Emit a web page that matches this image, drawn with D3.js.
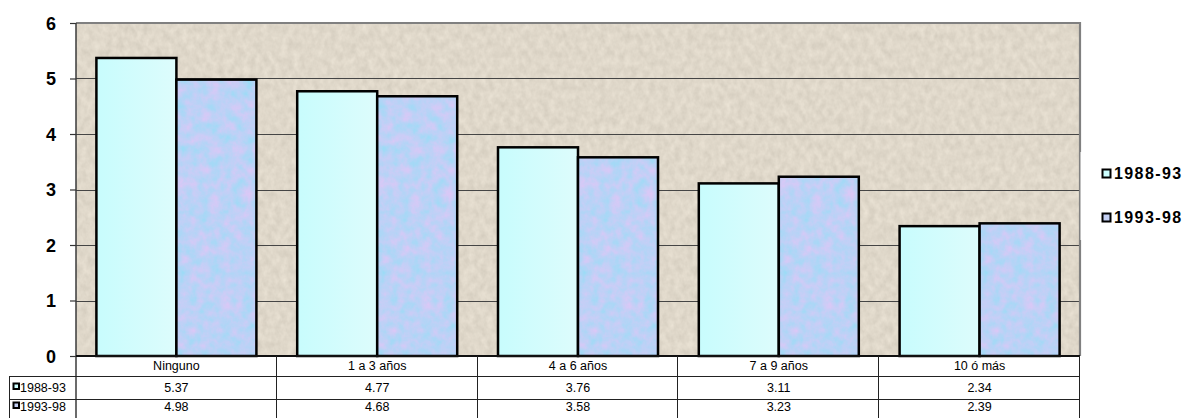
<!DOCTYPE html>
<html>
<head>
<meta charset="utf-8">
<script src="https://cdn.jsdelivr.net/npm/d3@7"></script>
<style>
  html, body { margin: 0; padding: 0; background: #ffffff; }
  svg { display: block; font-family: "Liberation Sans", Arial, sans-serif; }
</style>
</head>
<body>
<svg id="chart" width="1188" height="418"></svg>
<script>
// Education level groups and the two survey periods
const categories = ["Ninguno", "1 a 3 años", "4 a 6 años", "7 a 9 años", "10 ó más"];
const seriesNames = ["1988-93", "1993-98"];
const values8893 = [5.37, 4.77, 3.76, 3.11, 2.34];
const values9398 = [4.98, 4.68, 3.58, 3.23, 2.39];
const yTicks = [0, 1, 2, 3, 4, 5, 6];

const seriesValues = [values8893, values9398];

const svg = d3.select("#chart");
const W = 1188, H = 418;
const plot = { left: 76, right: 1080, top: 23, bottom: 356 };

// ---------- fills ----------
const defs = svg.append("defs");

// fine speckled beige stone for the plot background
const stone = defs.append("filter").attr("id", "stone")
  .attr("x", 0).attr("y", 0).attr("width", 1).attr("height", 1)
  .attr("color-interpolation-filters", "sRGB");
stone.append("feTurbulence").attr("type", "fractalNoise")
  .attr("baseFrequency", "0.16 0.12").attr("numOctaves", 3).attr("seed", 7).attr("result", "n");
stone.append("feColorMatrix").attr("in", "n").attr("type", "matrix")
  .attr("values", "0.11 0 0 0 0.82  0.11 0 0 0 0.79  0.11 0 0 0 0.735  0 0 0 0 1");

// mottled blue / lavender fill for the second series
const marble = defs.append("filter").attr("id", "marble")
  .attr("x", 0).attr("y", 0).attr("width", 1).attr("height", 1)
  .attr("color-interpolation-filters", "sRGB");
marble.append("feTurbulence").attr("type", "fractalNoise")
  .attr("baseFrequency", "0.09").attr("numOctaves", 4).attr("seed", 3).attr("result", "m");
marble.append("feColorMatrix").attr("in", "m").attr("type", "matrix")
  .attr("values", "0.32 0 0 0 0.58  -0.1 0 0 0 0.87  0 0 0 0 0.965  0 0 0 0 1");

// pale cyan gradient for the first series
const grad = defs.append("linearGradient").attr("id", "cyan")
  .attr("x1", "0%").attr("x2", "100%").attr("y1", "0%").attr("y2", "0%");
grad.append("stop").attr("offset", "0%").attr("stop-color", "#c8fcfd");
grad.append("stop").attr("offset", "100%").attr("stop-color", "#ddfcfc");

const keyFill = ["#ccffff", "#c4d0f4"];

// ---------- scales ----------
const x0 = d3.scaleBand().domain(categories).range([plot.left, plot.right]).paddingInner(0).paddingOuter(0);
const x1 = d3.scaleBand().domain(seriesNames).range([0, x0.bandwidth()]).paddingInner(0).paddingOuter(0.255);
const y = d3.scaleLinear().domain([0, 6]).range([plot.bottom, plot.top]);

// ---------- plot area ----------
svg.append("rect")
  .attr("x", plot.left).attr("y", plot.top)
  .attr("width", plot.right - plot.left).attr("height", plot.bottom - plot.top)
  .attr("fill", "#ddd5c8")
  .attr("filter", "url(#stone)");

// horizontal gridlines
svg.append("g").selectAll("line")
  .data(yTicks.filter(t => t > 0 && t < 6))
  .join("line")
  .attr("x1", plot.left).attr("x2", plot.right)
  .attr("y1", d => Math.round(y(d)) + 0.5).attr("y2", d => Math.round(y(d)) + 0.5)
  .attr("stroke", "#454545").attr("stroke-width", 1);

// border on top and right
svg.append("path")
  .attr("d", `M${plot.left},${plot.top} H${plot.right} V${plot.bottom}`)
  .attr("fill", "none").attr("stroke", "#808080").attr("stroke-width", 2.2);

// ---------- bars ----------
const groups = svg.append("g").selectAll("g")
  .data(categories)
  .join("g")
  .attr("transform", d => `translate(${x0(d)},0)`);

seriesNames.forEach((s, si) => {
  groups.append("rect")
    .attr("x", x1(s)).attr("width", x1.bandwidth())
    .attr("y", (d, i) => y(seriesValues[si][i]))
    .attr("height", (d, i) => y(0) - y(seriesValues[si][i]))
    .attr("fill", si === 0 ? "url(#cyan)" : "#c4d0f4")
    .attr("filter", si === 1 ? "url(#marble)" : null);
  groups.append("rect")
    .attr("x", x1(s)).attr("width", x1.bandwidth())
    .attr("y", (d, i) => y(seriesValues[si][i]))
    .attr("height", (d, i) => y(0) - y(seriesValues[si][i]))
    .attr("fill", "none")
    .attr("stroke", "#000").attr("stroke-width", 2.5);
});

// ---------- y axis ----------
const yAxis = d3.axisLeft(y).tickValues(yTicks).tickSize(6).tickPadding(14).tickFormat(d3.format("d"));
const gy = svg.append("g").attr("transform", `translate(${plot.left},0)`).call(yAxis);
gy.select(".domain").remove();
gy.selectAll(".tick line").attr("stroke", "#333").attr("stroke-width", 1.2);
gy.selectAll(".tick text")
  .attr("font-size", 18).attr("font-weight", "bold").attr("fill", "#000")
  .attr("font-family", "'Liberation Sans', Arial, sans-serif")
  .attr("dy", "0.36em");

svg.append("line")
  .attr("x1", plot.left).attr("x2", plot.left)
  .attr("y1", plot.top).attr("y2", H)
  .attr("stroke", "#3a3a3a").attr("stroke-width", 1.5);

// x axis baseline
svg.append("line")
  .attr("x1", plot.left).attr("x2", plot.right)
  .attr("y1", plot.bottom).attr("y2", plot.bottom)
  .attr("stroke", "#111").attr("stroke-width", 2);

// ---------- data table ----------
const tableLeft = 9;
const rowBottom = 421;
const tbl = svg.append("g").attr("font-size", 12.5).attr("fill", "#000");

// horizontal row lines
[376, 399].forEach(ry => {
  tbl.append("line")
    .attr("x1", tableLeft).attr("x2", plot.right)
    .attr("y1", ry + 0.5).attr("y2", ry + 0.5)
    .attr("stroke", "#222").attr("stroke-width", 1);
});
// left border for the series labels
tbl.append("line")
  .attr("x1", tableLeft + 0.5).attr("x2", tableLeft + 0.5)
  .attr("y1", 376).attr("y2", rowBottom)
  .attr("stroke", "#222").attr("stroke-width", 1);
// vertical separators at the category boundaries
const bounds = categories.map(c => x0(c)).concat([plot.right]);
tbl.selectAll("line.sep")
  .data(bounds.slice(1))
  .join("line")
  .attr("class", "sep")
  .attr("x1", d => Math.round(d) - 0.5).attr("x2", d => Math.round(d) - 0.5)
  .attr("y1", plot.bottom).attr("y2", rowBottom)
  .attr("stroke", "#222").attr("stroke-width", 1);

// category headers
tbl.selectAll("text.cat")
  .data(categories)
  .join("text")
  .attr("class", "cat")
  .attr("x", d => x0(d) + x0.bandwidth() / 2)
  .attr("y", 370)
  .attr("text-anchor", "middle")
  .text(d => d);

// value rows
const rowBase = [392, 411];
seriesNames.forEach((s, si) => {
  tbl.append("rect")
    .attr("x", 13.5).attr("y", rowBase[si] - 8.5)
    .attr("width", 5.5).attr("height", 5.5)
    .attr("fill", keyFill[si]).attr("stroke", "#000").attr("stroke-width", 2);
  tbl.append("text").attr("x", 20).attr("y", rowBase[si]).text(s);
  tbl.selectAll(null)
    .data(categories)
    .join("text")
    .attr("x", d => x0(d) + x0.bandwidth() / 2)
    .attr("y", rowBase[si])
    .attr("text-anchor", "middle")
    .text((d, i) => seriesValues[si][i].toFixed(2));
});

// ---------- legend ----------
svg.append("rect")
  .attr("x", plot.right + 0.5).attr("y", 152)
  .attr("width", W - plot.right).attr("height", 88)
  .attr("fill", "#ffffff");

const legend = svg.append("g");
const legendBase = [179, 223];
seriesNames.forEach((s, si) => {
  legend.append("rect")
    .attr("x", 1102.5).attr("y", legendBase[si] - 9.5)
    .attr("width", 8).attr("height", 8)
    .attr("fill", keyFill[si]).attr("stroke", "#000").attr("stroke-width", 2);
  legend.append("text")
    .attr("x", 1114).attr("y", legendBase[si])
    .attr("font-size", 16).attr("font-weight", "bold")
    .attr("letter-spacing", 1.4)
    .text(s);
});
</script>
</body>
</html>
